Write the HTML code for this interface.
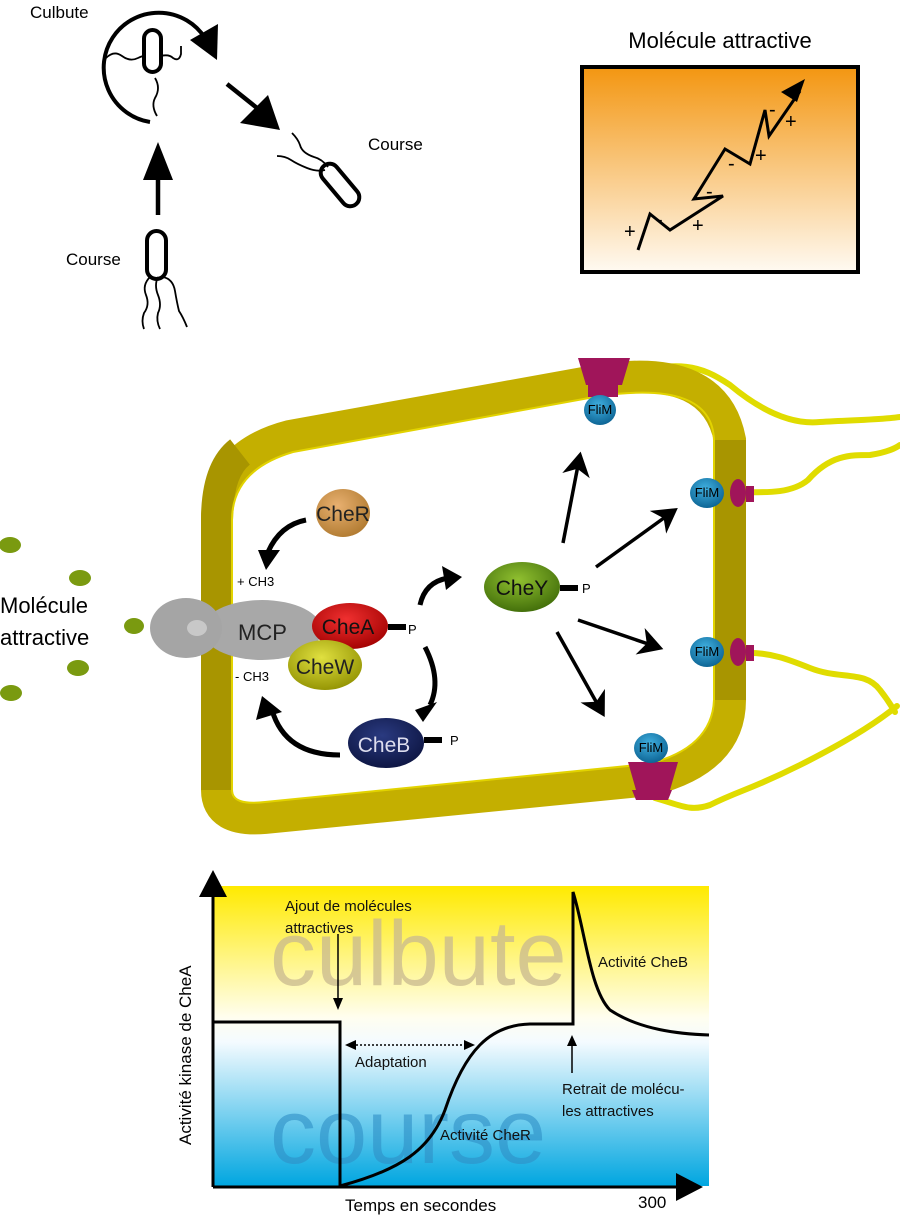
<!DOCTYPE html>
<html><head><meta charset="utf-8"><style>
html,body{margin:0;padding:0;background:#fff;width:900px;height:1217px;overflow:hidden}
svg text{font-family:"Liberation Sans","DejaVu Sans",sans-serif}
</style></head><body>
<svg width="900" height="1217" viewBox="0 0 900 1217" xmlns="http://www.w3.org/2000/svg">
<defs>
<linearGradient id="og" x1="0" y1="0" x2="0" y2="1"><stop offset="0" stop-color="#f39611"/><stop offset="1" stop-color="#fffaf2"/></linearGradient>
<linearGradient id="gg" x1="0" y1="0" x2="0" y2="1"><stop offset="0" stop-color="#ffea00"/><stop offset="0.44" stop-color="#fffef0"/><stop offset="0.52" stop-color="#f4fbff"/><stop offset="1" stop-color="#00a6e0"/></linearGradient>
<radialGradient id="rg" cx="0.4" cy="0.35" r="0.7"><stop offset="0" stop-color="#e8b070"/><stop offset="1" stop-color="#b07a30"/></radialGradient>
<radialGradient id="ra" cx="0.45" cy="0.35" r="0.7"><stop offset="0" stop-color="#f03030"/><stop offset="1" stop-color="#a00000"/></radialGradient>
<radialGradient id="rw" cx="0.45" cy="0.35" r="0.7"><stop offset="0" stop-color="#e0e040"/><stop offset="1" stop-color="#909000"/></radialGradient>
<radialGradient id="ry" cx="0.45" cy="0.35" r="0.7"><stop offset="0" stop-color="#90c030"/><stop offset="1" stop-color="#3e6a08"/></radialGradient>
<radialGradient id="rb" cx="0.45" cy="0.35" r="0.7"><stop offset="0" stop-color="#2a3a80"/><stop offset="1" stop-color="#0c1440"/></radialGradient>
<radialGradient id="rf" cx="0.45" cy="0.35" r="0.7"><stop offset="0" stop-color="#40b0e0"/><stop offset="1" stop-color="#0a6090"/></radialGradient>
<marker id="ah" markerWidth="10" markerHeight="10" refX="6" refY="5" orient="auto" markerUnits="strokeWidth"><path d="M0,1 L7,5 L0,9 L2,5Z" fill="#000"/></marker>
</defs>

<!-- top-left bacteria -->
<g fill="none" stroke="#000" stroke-width="4">
<path d="M150,122 A55,55 0 1 1 205,38"/>
<rect x="144" y="30" width="17" height="42" rx="8.5"/>
<path d="M158,215 L158,175" stroke-width="4.5"/>
<rect x="147" y="231" width="19" height="48" rx="9.5"/>
<path d="M227,84 L262,112" stroke-width="4.5"/>
</g>
<polygon points="190,40 218,24 217,60" fill="#000"/>
<polygon points="158,142 143,180 173,180" fill="#000"/>
<polygon points="280,130 240,123 268,95" fill="#000"/>
<g transform="translate(340,185) rotate(-40)"><rect x="-9" y="-25" width="18" height="50" rx="9" fill="none" stroke="#000" stroke-width="4"/></g>
<g fill="none" stroke="#000" stroke-width="1.8">
<path d="M106,58 q8,-8 16,-2 q8,6 16,2 q4,-2 6,-2"/>
<path d="M161,56 q8,-2 12,2 q6,4 8,-4 l0,-8"/>
<path d="M155,78 q6,10 0,20 q-4,8 2,18"/>
<path d="M150,277 q-8,8 -4,18 q4,10 -2,18 q-3,8 0,16"/>
<path d="M158,277 q-4,8 0,18 q4,10 0,18 q-2,8 2,16"/>
<path d="M163,277 q10,2 12,14 q2,12 4,20 q4,6 8,16"/>
<path d="M328,167 q-6,-8 -14,-10 q-12,-4 -14,-12 q-2,-6 -8,-12"/>
<path d="M325,170 q-8,2 -18,-2 q-10,-4 -16,-8 q-6,-4 -14,-4"/>
</g>
<text x="30" y="18" font-size="17">Culbute</text>
<text x="368" y="150" font-size="17">Course</text>
<text x="66" y="265" font-size="17">Course</text>

<!-- top right box -->
<text x="720" y="48" font-size="22" text-anchor="middle">Molécule attractive</text>
<rect x="582" y="67" width="276" height="205" fill="url(#og)" stroke="#000" stroke-width="4"/>
<polyline points="638,250 650,214 670,230 723,196 694,199 725,149 750,164 765,110 769,136 800,91" fill="none" stroke="#000" stroke-width="3"/>
<polygon points="805,79 781,92 797,102" fill="#000"/>
<g font-size="20"><text x="624" y="238">+</text><text x="656" y="226">-</text><text x="692" y="232">+</text><text x="706" y="198">-</text><text x="728" y="170">-</text><text x="755" y="162">+</text><text x="769" y="116">-</text><text x="785" y="128">+</text></g>

<!-- flagella -->
<g fill="none" stroke="#e0dc00" stroke-width="6" stroke-linecap="round">
<path d="M620,375 C680,360 700,365 730,385 C760,410 790,425 820,422 C850,420 880,420 900,417"/>
<path d="M740,492 C760,492 790,495 808,480 C830,455 850,455 870,455 Q890,452 900,445"/>
<path d="M745,653 C770,652 790,660 810,668 C840,680 865,670 880,690 Q888,700 895,712"/>
<path d="M655,798 C680,805 690,812 710,805 C740,790 750,790 800,765 C850,740 880,720 897,706"/>
</g>
<!-- cell membrane -->
<path d="M217,790 L217,520 Q217,455 290,436 L600,380 Q715,362 730,440 L730,700 Q730,760 650,780 L265,818 Q217,822 217,790 Z" fill="none" stroke="#c4af00" stroke-width="32"/>
<path d="M217,790 L217,520 Q217,470 240,452" fill="none" stroke="#a89500" stroke-width="32"/>
<path d="M730,440 L730,700" fill="none" stroke="#a89500" stroke-width="32"/>
<path d="M232,790 L232,520 Q232,470 293,452 L600,396 Q712,380 714,440 L714,700 Q712,748 648,764 L265,802 Q232,806 232,790 Z" fill="none" stroke="#e2d300" stroke-width="2"/>
<!-- motors -->
<g fill="#a0155a">
<path d="M578,358 L630,358 L622,385 L586,385Z"/><rect x="588" y="385" width="30" height="12"/>
<ellipse cx="738" cy="493" rx="8" ry="14"/><rect x="746" y="486" width="8" height="16"/>
<ellipse cx="738" cy="652" rx="8" ry="14"/><rect x="746" y="645" width="8" height="16"/>
<path d="M628,762 L678,762 L670,790 L636,790Z"/><path d="M632,790 L672,790 L668,800 L636,800Z"/>
</g>
<g font-size="13" text-anchor="middle">
<ellipse cx="600" cy="410" rx="16" ry="15" fill="url(#rf)"/><text x="600" y="414" fill="#000">FliM</text>
<ellipse cx="707" cy="493" rx="17" ry="15" fill="url(#rf)"/><text x="707" y="497" fill="#000">FliM</text>
<ellipse cx="707" cy="652" rx="17" ry="15" fill="url(#rf)"/><text x="707" y="656" fill="#000">FliM</text>
<ellipse cx="651" cy="748" rx="17" ry="15" fill="url(#rf)"/><text x="651" y="752" fill="#000">FliM</text>
</g>
<!-- attractant dots -->
<g fill="#7a9a10">
<ellipse cx="10" cy="545" rx="11" ry="8"/><ellipse cx="80" cy="578" rx="11" ry="8"/><ellipse cx="134" cy="626" rx="10" ry="8"/><ellipse cx="78" cy="668" rx="11" ry="8"/><ellipse cx="11" cy="693" rx="11" ry="8"/>
</g>
<text x="0" y="613" font-size="22">Molécule</text>
<text x="0" y="645" font-size="22">attractive</text>
<!-- MCP -->
<ellipse cx="262" cy="630" rx="60" ry="30" fill="#a8a8a8"/>
<ellipse cx="186" cy="628" rx="36" ry="30" fill="#a5a5a5"/>
<ellipse cx="197" cy="628" rx="10" ry="8" fill="#c8c8c8"/>
<text x="238" y="640" font-size="22" fill="#222">MCP</text>
<!-- proteins -->
<ellipse cx="343" cy="513" rx="27" ry="24" fill="url(#rg)"/><text x="343" y="521" font-size="21" text-anchor="middle" fill="#222">CheR</text>
<ellipse cx="350" cy="626" rx="38" ry="23" fill="url(#ra)"/><text x="348" y="634" font-size="21" text-anchor="middle" fill="#111">CheA</text>
<ellipse cx="325" cy="665" rx="37" ry="25" fill="url(#rw)"/><text x="325" y="674" font-size="21" text-anchor="middle" fill="#222">CheW</text>
<ellipse cx="522" cy="587" rx="38" ry="25" fill="url(#ry)"/><text x="522" y="595" font-size="21" text-anchor="middle" fill="#111">CheY</text>
<ellipse cx="386" cy="743" rx="38" ry="25" fill="url(#rb)"/><text x="384" y="752" font-size="21" text-anchor="middle" fill="#dde">CheB</text>
<g fill="#000"><rect x="388" y="624" width="18" height="6"/><rect x="560" y="585" width="18" height="6"/><rect x="424" y="737" width="18" height="6"/></g>
<g font-size="13"><text x="408" y="634">P</text><text x="582" y="593">P</text><text x="450" y="745">P</text>
<text x="237" y="586">+ CH3</text><text x="235" y="681">- CH3</text></g>
<!-- cycle arrows -->
<g fill="none" stroke="#000" stroke-width="5">
<path d="M306,520 Q280,525 268,552"/>
<path d="M420,605 Q425,582 448,578"/>
<path d="M425,647 Q442,680 430,705"/>
<path d="M340,755 Q285,755 272,710"/>
</g>
<polygon points="258,550 280,550 266,570" fill="#000"/>
<polygon points="462,577 442,566 446,590" fill="#000"/>
<polygon points="415,710 437,702 423,722" fill="#000"/>
<polygon points="262,696 256,720 282,712" fill="#000"/>
<!-- CheY arrows -->
<g stroke="#000" stroke-width="3.5" fill="none" marker-end="url(#ah)">
<path d="M563,543 L580,455"/>
<path d="M596,567 L675,510"/>
<path d="M578,620 L660,648"/>
<path d="M557,632 L603,714"/>
</g>

<!-- graph -->
<rect x="213" y="886" width="496" height="300" fill="url(#gg)"/>
<text x="270" y="985" font-size="92" fill="#c9b990" opacity="0.75">culbute</text>
<text x="270" y="1163" font-size="92" fill="#2f8fc6" opacity="0.6">course</text>
<g fill="none" stroke="#000" stroke-width="3">
<path d="M213,1187 L213,882"/><path d="M213,1187 L690,1187"/>
<path d="M213,1022 L340,1022 L340,1186"/>
<path d="M340,1186 C400,1170 430,1150 445,1110 C465,1050 490,1025 530,1024 L573,1024 L573,892 C585,930 590,990 610,1010 C640,1030 680,1034 709,1035"/>
</g>
<polygon points="213,870 199,897 227,897" fill="#000"/>
<polygon points="703,1187 676,1173 676,1201" fill="#000"/>
<g stroke="#000" stroke-width="1.5" fill="none">
<path d="M338,934 L338,1004"/><path d="M572,1044 L572,1073"/>
<path d="M348,1045 L470,1045" stroke-dasharray="2,2"/>
</g>
<polygon points="338,1010 333,998 343,998" fill="#000"/>
<polygon points="572,1035 567,1046 577,1046" fill="#000"/>
<polygon points="345,1045 356,1040 356,1050" fill="#000"/>
<polygon points="475,1045 464,1040 464,1050" fill="#000"/>
<g font-size="15" fill="#111">
<text x="285" y="911">Ajout de molécules</text><text x="285" y="933">attractives</text>
<text x="355" y="1067">Adaptation</text>
<text x="440" y="1140">Activité CheR</text>
<text x="598" y="967">Activité CheB</text>
<text x="562" y="1094">Retrait de molécu-</text><text x="562" y="1116">les attractives</text>
</g>
<text x="345" y="1211" font-size="17">Temps en secondes</text>
<text x="638" y="1208" font-size="17">300</text>
<text transform="translate(191,1145) rotate(-90)" font-size="17">Activité kinase de CheA</text>
</svg>
</body></html>
